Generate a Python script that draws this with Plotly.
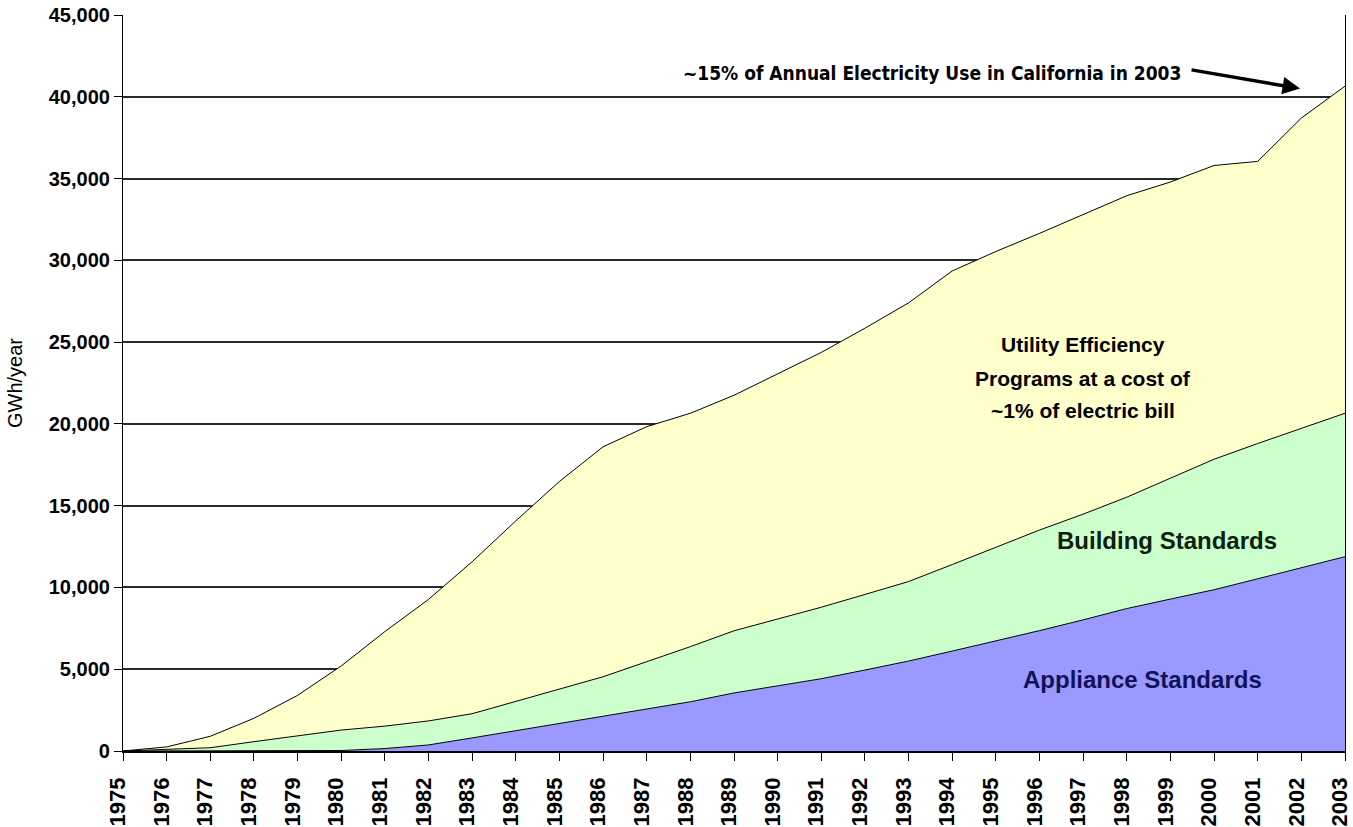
import plotly.graph_objects as go

years = list(range(1975, 2004))

# Annual savings by source (GWh/year), stacked components
appliance = [0, 0, 0, 0, 0, 30, 150, 370, 800, 1240, 1690, 2130, 2570, 3010, 3550,
             3970, 4420, 4950, 5500, 6110, 6730, 7360, 8020, 8710, 9290, 9860, 10530, 11200, 11880]
building = [0, 80, 200, 570, 930, 1250, 1370, 1470, 1480, 1800, 2100, 2410, 2890, 3370, 3800,
            4100, 4370, 4620, 4860, 5290, 5710, 6150, 6460, 6810, 7390, 7980, 8270, 8520, 8770]
utility = [0, 170, 700, 1430, 2470, 3920, 5780, 7430, 9290, 11030, 12690, 14060, 14370, 14270, 14400,
           15000, 15580, 16280, 17040, 17950, 18100, 18140, 18340, 18430, 18110, 17960, 17250, 18980, 20000]

y_ticks = [0, 5000, 10000, 15000, 20000, 25000, 30000, 35000, 40000, 45000]
y_tick_labels = ["0", "5,000", "10,000", "15,000", "20,000", "25,000", "30,000", "35,000", "40,000", "45,000"]

utility_label = ["Utility Efficiency", "Programs at a cost of", "~1% of electric bill"]

FONT = "Liberation Sans, Arial, sans-serif"

fig = go.Figure()
series = [
    ("Appliance Standards", appliance, "#9999FF"),
    ("Building Standards", building, "#CCFFCC"),
    ("Utility Efficiency Programs", utility, "#FFFFCC"),
]
for name, vals, col in series:
    fig.add_trace(go.Scatter(
        x=years, y=vals, name=name, mode="lines", stackgroup="one",
        line=dict(color="black", width=1), fillcolor=col, hoverinfo="x+y+name",
    ))

fig.update_layout(
    width=1353, height=827,
    margin=dict(l=123, r=8, t=15, b=76),
    plot_bgcolor="white", paper_bgcolor="white",
    showlegend=False,
    font=dict(family=FONT, color="black"),
)
fig.update_xaxes(
    range=[1975, 2003], tickmode="array", tickvals=years, ticktext=[str(y) for y in years],
    tickangle=-90, tickfont=dict(family=FONT, size=22, color="black", weight="bold"),
    ticks="outside", ticklen=8, tickcolor="black", showgrid=False,
    ticklabeloverflow="allow", ticklabelshift=-5, ticklabelstandoff=8,
    showline=True, linecolor="black", linewidth=1.5, mirror=False, automargin=False,
)
fig.update_yaxes(
    range=[0, 45000], tickmode="array", tickvals=y_ticks, ticktext=y_tick_labels,
    tickfont=dict(family=FONT, size=20, color="black", weight="bold"),
    ticks="outside", ticklen=8, tickcolor="black",
    showgrid=True, gridcolor="#2a2a2a", gridwidth=1.5,
    showline=True, linecolor="black", linewidth=1.2, mirror=True, zeroline=False,
    title=dict(text="GWh/year", font=dict(family=FONT, size=20, color="black"), standoff=20),
    automargin=False,
)

for line_text, yv in zip(utility_label, [24880, 22800, 20790]):
    fig.add_annotation(
        text=line_text, x=1997.0, y=yv, xref="x", yref="y", showarrow=False,
        font=dict(family=FONT, size=21, color="black", weight="bold"),
    )
fig.add_annotation(
    text="Building Standards", x=1998.92, y=12840, xref="x", yref="y", showarrow=False,
    font=dict(family=FONT, size=24, color="#0c200c", weight="bold"),
)
fig.add_annotation(
    text="Appliance Standards", x=1998.35, y=4400, xref="x", yref="y", showarrow=False,
    font=dict(family=FONT, size=24, color="#12125a", weight="bold"),
)
fig.add_annotation(
    text="~15% of Annual Electricity Use in California in 2003",
    x=1999.29, y=41450, xref="x", yref="y", xanchor="right", showarrow=False,
    font=dict(family="Liberation Sans Narrow, DejaVu Sans Condensed, Liberation Sans", size=19,
              color="black", weight="bold"),
)
fig.add_annotation(
    x=2001.97, y=40500, xref="x", yref="y", text="", showarrow=True,
    ax=-110, ay=-19, arrowhead=2, arrowsize=1, arrowwidth=3.5, arrowcolor="black",
)

fig.write_html(
    "out.html",
    config={"displayModeBar": False},
    post_script="document.body.style.margin='0px';document.body.style.overflow='hidden';",
)
